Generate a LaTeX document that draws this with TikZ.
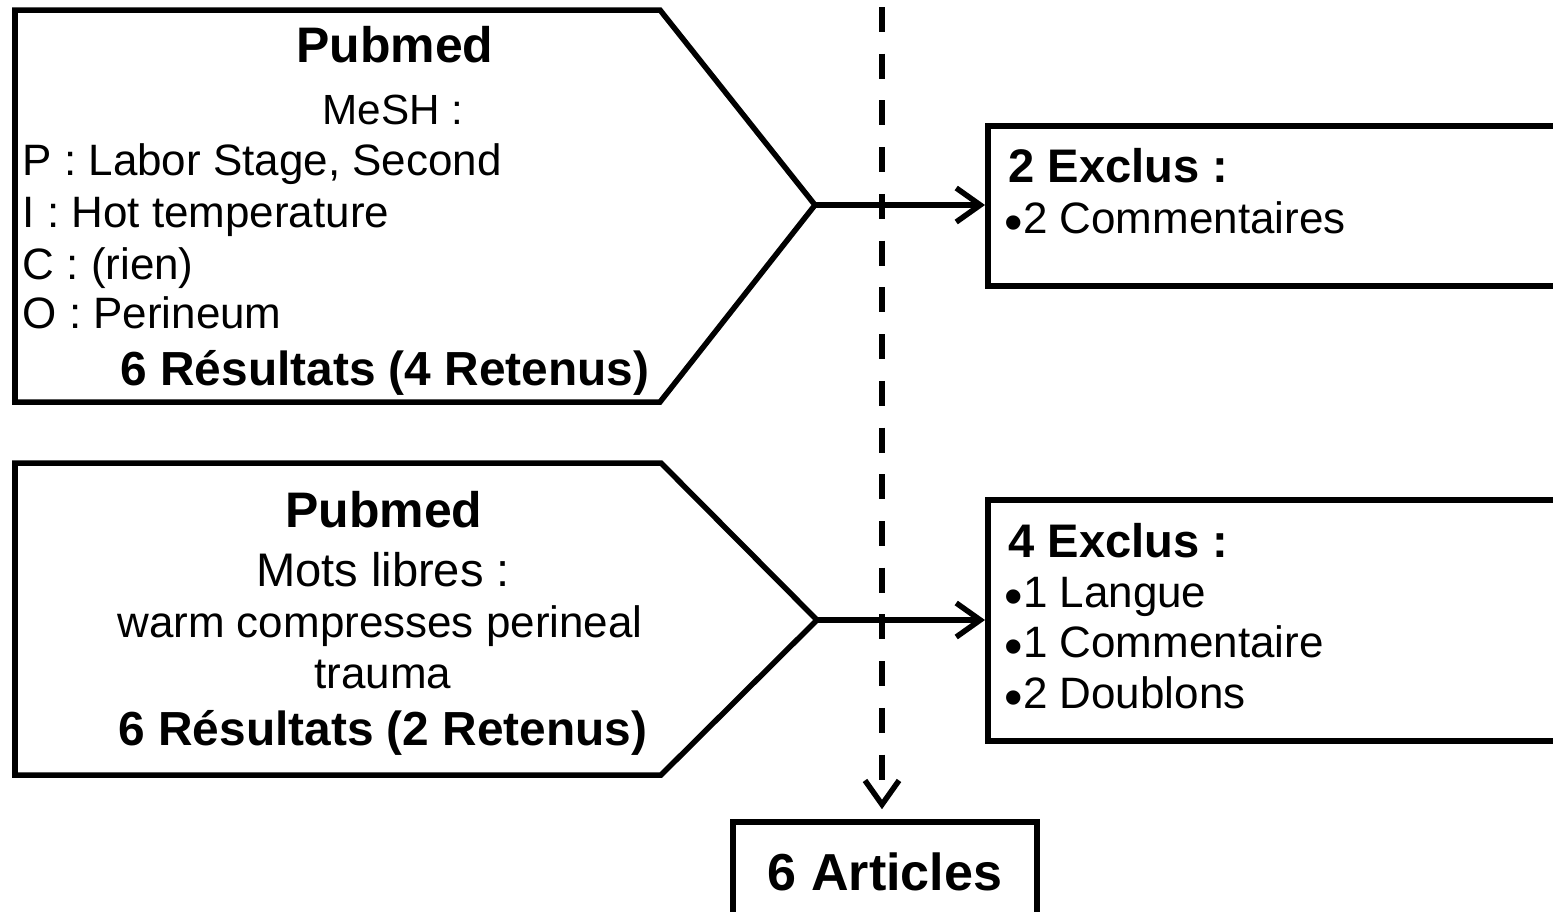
\documentclass[tikz,border=0pt]{standalone}
\usepackage{fontspec}
\setmainfont{Liberation Sans}
\usetikzlibrary{arrows.meta}
\newcommand{\blt}{\raisebox{-2pt}{\fontsize{15}{15}\selectfont •}}
\tikzset{
  ln/.style={line width=0.055cm},
  arr/.style={ln, -{Straight Barb[length=0.24cm,width=0.34cm]}},
  box/.style={ln, draw, rectangle, inner sep=0pt},
  rg/.style={inner sep=0pt, anchor=base, font=\fontsize{12.5}{15}\selectfont},
  rgl/.style={rg, anchor=base west},
  hd/.style={inner sep=0pt, anchor=base, font=\fontsize{14.2}{17}\selectfont\bfseries},
  bd/.style={inner sep=0pt, anchor=base, font=\fontsize{13.6}{16}\selectfont\bfseries},
  exl/.style={inner sep=0pt, anchor=base west, font=\fontsize{13.4}{16}\selectfont\bfseries}
}
\begin{document}
\begin{tikzpicture}[x=0.01cm, y=-0.01cm]
\useasboundingbox (0,0) rectangle (1553,911);
\clip (0,0) rectangle (1553,911);
\draw[ln] (15,10) -- (660,10) -- (815,205) -- (660,402) -- (15,402) -- cycle;
\coordinate (tip0) at (815,205);
\node[hd] (pm0) at (395,62) {Pubmed};
\node[rg, font=\fontsize{12}{14}\selectfont] (mesh) at (393,124) {MeSH :};
\node[rgl] (p0) at (22,175) {P : Labor Stage, Second};
\node[rgl] (i0) at (22,227) {I : Hot temperature};
\node[rgl] (c0) at (22,279) {C : (rien)};
\node[rgl] (o0) at (22,328) {O : Perineum};
\node[bd] (res0) at (385,385) {6 Résultats (4 Retenus)};
\draw[ln] (15,463) -- (661,463) -- (817,620) -- (661,775) -- (15,775) -- cycle;
\coordinate (tip1) at (817,620);
\node[hd] (pm1) at (384,527) {Pubmed};
\node[rg, font=\fontsize{13.4}{16}\selectfont] (ml) at (383,586) {Mots libres :};
\node[rg] (kw0) at (380,637) {warm compresses perineal};
\node[rg] (kw1) at (383,688) {trauma};
\node[bd] (res1) at (383,745) {6 Résultats (2 Retenus)};
\node[box, minimum width=6.2cm, minimum height=1.6cm, anchor=north west] (excl0) at (985,123) {};
\node[exl] (ex0) at (1008,182) {2 Exclus :};
\node[rgl] (ex0a) at (1004,233) {\blt2 Commentaires};
\node[box, minimum width=6.2cm, minimum height=2.41cm, anchor=north west] (excl1) at (985,497) {};
\node[exl] (ex1) at (1008,557) {4 Exclus :};
\node[rgl] (ex1a) at (1004,607) {\blt1 Langue};
\node[rgl] (ex1b) at (1004,657) {\blt1 Commentaire};
\node[rgl] (ex1c) at (1004,708) {\blt2 Doublons};
\node[box, minimum width=3.04cm, minimum height=1.0cm, font=\fontsize{14.8}{18}\selectfont\bfseries] (art) at (885,872) {6 Articles};
\coordinate (dtop) at (882,7);
\draw[arr, dash pattern=on 0.25cm off 0.217cm, shorten >=0.1cm] (dtop) -- (dtop |- art.north);
\draw[arr] (tip0) -- (tip0 -| excl0.west);
\draw[arr] (tip1) -- (tip1 -| excl1.west);
\end{tikzpicture}
\end{document}
